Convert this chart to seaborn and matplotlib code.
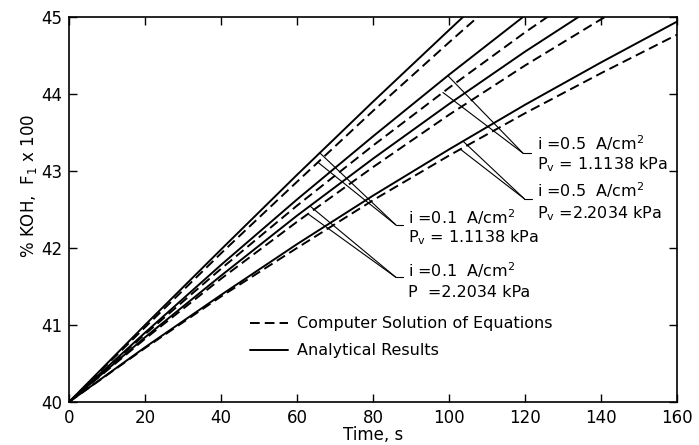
import numpy as np
import pandas as pd
import matplotlib
matplotlib.use("Agg")
import matplotlib.pyplot as plt
from matplotlib.lines import Line2D
import seaborn as sns

# ---------------- data ----------------
time = [0, 20, 40, 60, 80, 100, 120, 140, 160]
nan = np.nan
# Analytical results (solid)
a_i01_p11 = [40.00, 41.00, 41.98, 42.95, 43.90, 44.83, 45.75, nan, nan]
a_i05_p11 = [40.00, 40.90, 41.78, 42.63, 43.45, 44.25, 45.02, nan, nan]
a_i01_p22 = [40.00, 40.84, 41.64, 42.42, 43.16, 43.87, 44.55, 45.19, nan]
a_i05_p22 = [40.00, 40.71, 41.39, 42.05, 42.68, 43.28, 43.86, 44.41, 44.94]
# Computer solution of equations (dashed)
c_i01_p11 = [40.00, 40.97, 41.93, 42.86, 43.78, 44.67, 45.54, nan, nan]
c_i05_p11 = [40.00, 40.88, 41.73, 42.55, 43.33, 44.08, 44.80, 45.48, nan]
c_i01_p22 = [40.00, 40.82, 41.60, 42.34, 43.05, 43.73, 44.37, 44.97, 45.54]
c_i05_p22 = [40.00, 40.70, 41.37, 42.00, 42.62, 43.20, 43.75, 44.27, 44.77]

x_ticks = [0, 20, 40, 60, 80, 100, 120, 140, 160]
y_ticks = [40, 41, 42, 43, 44, 45]
kind_labels = ["Computer Solution of Equations", "Analytical Results"]

series = {
    ("a", "i01_p11"): a_i01_p11, ("a", "i05_p11"): a_i05_p11,
    ("a", "i01_p22"): a_i01_p22, ("a", "i05_p22"): a_i05_p22,
    ("c", "i01_p11"): c_i01_p11, ("c", "i05_p11"): c_i05_p11,
    ("c", "i01_p22"): c_i01_p22, ("c", "i05_p22"): c_i05_p22,
}
rows = []
for (k, name), vals in series.items():
    for t, v in zip(time, vals):
        rows.append({"time": t, "value": v, "kind": k,
                     "series": k + "_" + name})
df = pd.DataFrame(rows).dropna()

# ---------------- figure ----------------
sns.set_style("ticks")
plt.rcParams["font.family"] = ["DejaVu Sans"]
plt.rcParams.update({"text.color": "black", "axes.labelcolor": "black",
                     "xtick.color": "black", "ytick.color": "black",
                     "axes.edgecolor": "black"})
fig = plt.figure(figsize=(6.99, 4.45), dpi=100)
ax = fig.add_axes([69 / 699, 1 - 402 / 445, (677 - 69) / 699, (402 - 17) / 445])

DASH = (5, 2.6)
sns.lineplot(data=df, x="time", y="value", units="series", estimator=None,
             style="kind", dashes={"a": "", "c": DASH}, color="black",
             linewidth=1.4, sort=False, legend=False, ax=ax)

ax.set_xlim(0, 160)
ax.set_ylim(40, 45)
ax.set_xticks(x_ticks)
ax.set_yticks(y_ticks)
ax.tick_params(direction="in", length=6, width=1.0, top=True, right=True,
               labelsize=12, pad=5, colors="black")
for s in ax.spines.values():
    s.set_linewidth(1.2)
    s.set_color("black")
ax.set_xlabel("Time, s", fontsize=12, va="center", color="black")
ax.xaxis.set_label_coords(0.5, -0.085)
ax.set_ylabel(r"% KOH,  F$_\mathrm{1}$ x 100", fontsize=12, color="black")
ax.yaxis.set_label_coords(-0.05, 0.56)

# ---------------- annotations with leader lines ----------------
def leader(ts, series_pair, conv, text_x, lines):
    for t, ser in zip(ts, series_pair):
        y0 = np.interp(t, time, ser)
        ax.plot([t, conv[0]], [y0, conv[1]], color="black", lw=0.8)
    ax.plot([conv[0], conv[0] + 2.0], [conv[1], conv[1]], color="black", lw=0.8)
    for ty, txt in lines:
        ax.text(text_x, ty, txt, fontsize=11.5, va="center", ha="left",
                color="black")

leader([99.7, 98.4], [a_i05_p11, c_i05_p11], (119.5, 43.23), 123.2,
       [(43.36, r"i =0.5  A/cm$^\mathrm{2}$"),
        (43.08, r"P$_\mathrm{v}$ = 1.1138 kPa")])
leader([103.7, 103.0], [a_i05_p22, c_i05_p22], (119.8, 42.64), 123.2,
       [(42.75, r"i =0.5  A/cm$^\mathrm{2}$"),
        (42.45, r"P$_\mathrm{v}$ =2.2034 kPa")])
leader([66.0, 65.5], [a_i01_p11, c_i01_p11], (86.0, 42.30), 89.2,
       [(42.40, r"i =0.1  A/cm$^\mathrm{2}$"),
        (42.13, r"P$_\mathrm{v}$ = 1.1138 kPa")])
leader([63.4, 62.9], [a_i01_p22, c_i01_p22], (86.0, 41.62), 89.2,
       [(41.71, r"i =0.1  A/cm$^\mathrm{2}$"),
        (41.42, r"P  =2.2034 kPa")])

# ---------------- legend ----------------
handles = [Line2D([], [], color="black", lw=1.4, linestyle=(0, DASH)),
           Line2D([], [], color="black", lw=1.4)]
leg = ax.legend(handles, kind_labels, loc="center left", frameon=False,
                bbox_to_anchor=(47.6, 40.84), bbox_transform=ax.transData,
                fontsize=11.5, handlelength=2.4, handletextpad=0.55,
                labelspacing=0.75, borderpad=0, borderaxespad=0)
for t in leg.get_texts():
    t.set_color("black")

fig.savefig("out.png", dpi=100, facecolor="white")
